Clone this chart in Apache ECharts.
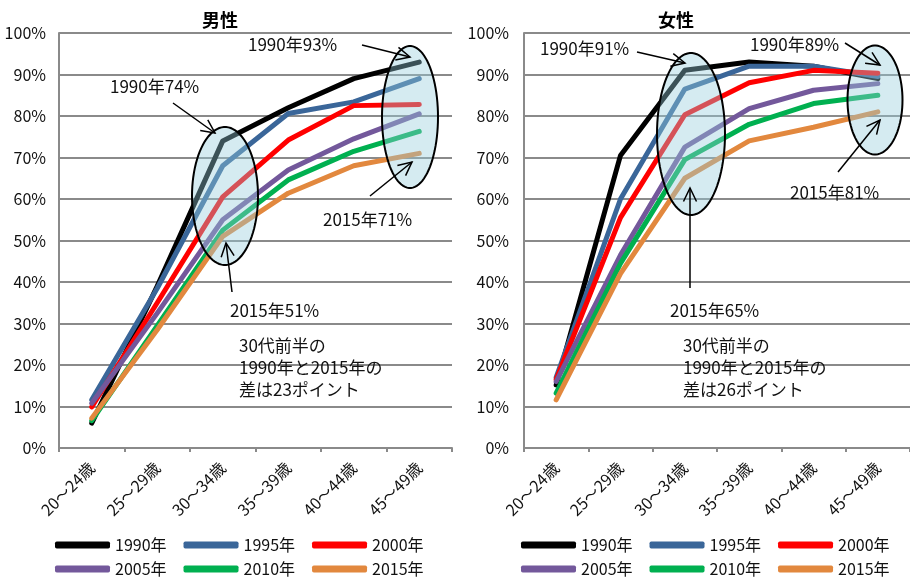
<!DOCTYPE html>
<html>
<head>
<meta charset="utf-8">
<script src="https://cdn.jsdelivr.net/npm/echarts@6/dist/echarts.min.js"></script>
<style>
html,body{margin:0;padding:0;background:#fff;}
#chart{width:910px;height:578px;}
</style>
</head>
<body>
<div id="chart"></div>
<script>
// Age groups on the x axis
const ages = ['20～24歳', '25～29歳', '30～34歳', '35～39歳', '40～44歳', '45～49歳'];
// Census years (one line each)
const years = ['1990年', '1995年', '2000年', '2005年', '2010年', '2015年'];
// Y-axis ticks (percent)
const yTicks = [0, 10, 20, 30, 40, 50, 60, 70, 80, 90, 100];

// 男性 (%)
const male1990 = [6, 39, 74, 82, 89, 93];
const male1995 = [11.6, 38.5, 68, 80.6, 83.4, 89];
const male2000 = [9.9, 35, 60.5, 74.2, 82.5, 82.8];
const male2005 = [10.8, 32.5, 55, 67, 74.5, 80.5];
const male2010 = [6.6, 29.5, 52.5, 64.6, 71.5, 76.3];
const male2015 = [7.2, 28.5, 51, 61.4, 68, 71];

// 女性 (%)
const female1990 = [15.2, 70.5, 91, 93, 92, 89];
const female1995 = [17, 60, 86.5, 92, 92, 89.5];
const female2000 = [16.5, 55.5, 80.3, 88, 91, 90.3];
const female2005 = [16, 46.5, 72.5, 81.8, 86.2, 87.8];
const female2010 = [13.2, 44.5, 69.5, 78, 83, 85];
const female2015 = [11.6, 42, 65, 74, 77.3, 81];

const maleSeries = [male1990, male1995, male2000, male2005, male2010, male2015];
const femaleSeries = [female1990, female1995, female2000, female2005, female2010, female2015];

const colors = ['#000000', '#3a6699', '#ff0000', '#73589b', '#00b050', '#e2883e'];

const FONT = "'Noto Sans CJK JP', sans-serif";

const chart = echarts.init(document.getElementById('chart'));

function makeAxes(gridIndex) {
  return {
    x: {
      type: 'category', gridIndex: gridIndex, data: ages, boundaryGap: true,
      axisLine: { lineStyle: { color: '#8a8a8a', width: 2 } },
      axisTick: { show: true, length: 4, interval: 0, lineStyle: { color: '#8a8a8a', width: 2 } },
      axisLabel: { interval: 0, rotate: 45, margin: 17, color: '#111', fontSize: 16, fontFamily: FONT }
    },
    y: {
      type: 'value', gridIndex: gridIndex, min: 0, max: 100, interval: 10,
      axisLine: { show: true, lineStyle: { color: '#8a8a8a', width: 2 } },
      axisTick: { show: false },
      splitLine: { lineStyle: { color: '#8a8a8a', width: 2 } },
      axisLabel: { formatter: '{value}%', color: '#111', fontSize: 16, margin: gridIndex === 0 ? 13 : 15, fontFamily: FONT }
    }
  };
}
const ax0 = makeAxes(0), ax1 = makeAxes(1);

const series = [];
[maleSeries, femaleSeries].forEach(function (set, gi) {
  set.forEach(function (vals, i) {
    series.push({
      type: 'line', name: years[i], xAxisIndex: gi, yAxisIndex: gi,
      data: vals, showSymbol: false, symbol: 'none', smooth: false,
      lineStyle: { width: 5, color: colors[i], cap: 'round', join: 'round' },
      itemStyle: { color: colors[i] },
      z: 2 + i * 0.01, animation: false
    });
  });
});

function legendRow(left, top, names) {
  return {
    left: left, top: top, orient: 'horizontal', data: names,
    icon: 'roundRect', itemWidth: 55, itemHeight: 7, itemGap: 17,
    selectedMode: false,
    textStyle: { fontSize: 16, color: '#111', fontFamily: FONT, width: 55 }
  };
}

// Ellipse outline as polygon points
function ellipsePts(cx, cy, rx, ry) {
  const pts = [];
  for (let k = 0; k < 90; k++) {
    const a = k / 90 * Math.PI * 2;
    pts.push([cx + rx * Math.cos(a), cy + ry * Math.sin(a)]);
  }
  return pts;
}
function ellipse(cx, cy, rx, ry) {
  return {
    type: 'polygon', z: 50,
    shape: { points: ellipsePts(cx, cy, rx, ry) },
    style: { fill: 'rgba(150,205,220,0.4)', stroke: '#000', lineWidth: 2 }
  };
}
function arrow(x1, y1, x2, y2) {
  const ang = Math.atan2(y2 - y1, x2 - x1);
  const L = 15, spread = Math.PI / 7;
  const a1 = [x2 - L * Math.cos(ang - spread), y2 - L * Math.sin(ang - spread)];
  const a2 = [x2 - L * Math.cos(ang + spread), y2 - L * Math.sin(ang + spread)];
  return [
    { type: 'line', z: 60, shape: { x1: x1, y1: y1, x2: x2, y2: y2 }, style: { stroke: '#000', lineWidth: 1.5 } },
    { type: 'polyline', z: 60, shape: { points: [a1, [x2, y2], a2] }, style: { stroke: '#000', lineWidth: 1.5, fill: null } }
  ];
}
function label(text, x, y) {
  return {
    type: 'text', z: 60, x: x, y: y,
    style: { text: text, fill: '#111', fontSize: 17, fontFamily: FONT, textVerticalAlign: 'middle', lineHeight: 22 }
  };
}

const graphics = [
  { type: 'text', z: 60, x: 220, y: 20, style: { text: '男性', fill: '#000', fontSize: 18, fontWeight: 'bold', fontFamily: FONT, textAlign: 'center', textVerticalAlign: 'middle' } },
  { type: 'text', z: 60, x: 676, y: 20, style: { text: '女性', fill: '#000', fontSize: 18, fontWeight: 'bold', fontFamily: FONT, textAlign: 'center', textVerticalAlign: 'middle' } },
  // 男性 annotations
  ellipse(225, 196, 33, 69),
  ellipse(410, 117, 28, 71),
  label('1990年74%', 110, 87),
  label('1990年93%', 248, 45),
  label('2015年71%', 323, 220),
  label('2015年51%', 230, 311),
  label('30代前半の\n1990年と2015年の\n差は23ポイント', 239, 368),
  // 女性 annotations
  ellipse(691, 134, 34, 81),
  ellipse(875, 100, 27.5, 54.5),
  label('1990年91%', 540, 49),
  label('1990年89%', 750, 45),
  label('2015年81%', 790, 193),
  label('2015年65%', 670, 311),
  label('30代前半の\n1990年と2015年の\n差は26ポイント', 683, 368)
].concat(
  arrow(173, 103, 215, 133),
  arrow(362, 45, 410, 57),
  arrow(370, 196, 412, 162),
  arrow(232, 292, 226, 243),
  arrow(637, 52, 685, 63),
  arrow(845, 43, 880, 65),
  arrow(838, 172, 880, 120),
  arrow(690, 288, 690, 188)
);

chart.setOption({
  animation: false,
  color: colors,
  grid: [
    { left: 59, right: 458, top: 33, bottom: 130, containLabel: false },
    { left: 524, right: -7, top: 33, bottom: 130, containLabel: false }
  ],
  xAxis: [ax0.x, ax1.x],
  yAxis: [ax0.y, ax1.y],
  legend: [
    legendRow(50, 532, years.slice(0, 3)),
    legendRow(50, 556, years.slice(3)),
    legendRow(516, 532, years.slice(0, 3)),
    legendRow(516, 556, years.slice(3))
  ],
  series: series,
  graphic: graphics
});
</script>
</body>
</html>
